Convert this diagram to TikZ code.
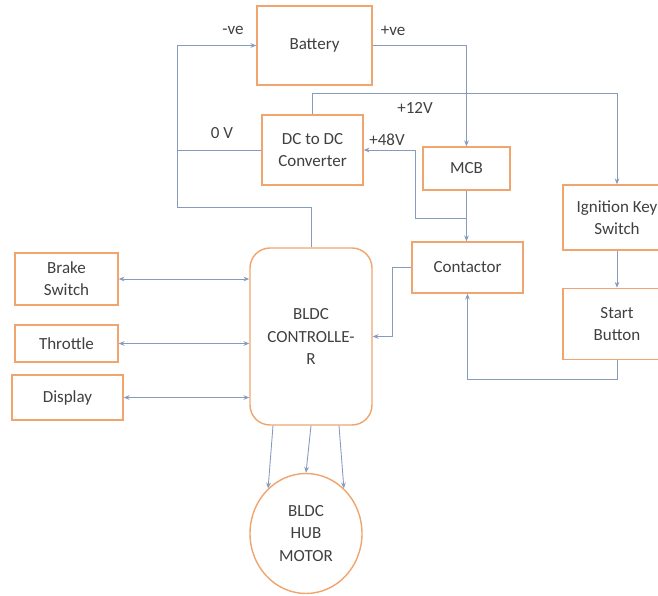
\documentclass[tikz,border=0pt]{standalone}
\usepackage{fontspec}
\setmainfont{Carlito}
\usetikzlibrary{positioning,shapes.geometric,arrows.meta}
\definecolor{boxline}{RGB}{240,165,110}
\definecolor{wire}{RGB}{135,155,190}
\definecolor{ink}{RGB}{64,64,64}
\tikzset{
  blk/.style 2 args={draw=boxline, line width=1.2pt, fill=white, text=ink, align=center,
    minimum width=#1*0.3mm, minimum height=#2*0.3mm, inner sep=0pt},
  wr/.style={draw=wire, line width=0.75pt},
  lbl/.style={text=ink, inner sep=0pt}
}

\begin{document}
\begin{tikzpicture}[x=0.3mm, y=-0.3mm, font=\fontsize{14.5}{19}\selectfont,
  >={Stealth[length=5pt,width=4pt]}]
  \clip (0,0) rectangle (658,596);
  % blocks
  \node[blk={115}{79}] (bat) at (314.5,45.5) {Battery};
  \node[blk={101}{70}] (conv) at (312.5,150) {DC to DC\\Converter};
  \node[blk={87}{43}] (mcb) at (466.5,168.5) {MCB};
  \node[blk={111}{51}] (cont) at (467.5,267.5) {Contactor};
  \node[blk={108}{65}] (ign) at (617,217.5) {Ignition Key\\Switch};
  \node[blk={108}{71}, below=11.1mm of ign] (start) {Start\\Button};
  \node[blk={122}{177}, rounded corners=6mm] (ctrl) at (311,336.5) {BLDC\\CONTROLLE-\\R};
  \node[blk={103}{52}] (brake) at (66.5,279) {Brake\\Switch};
  \node[blk={103}{37}] (thr) at (66.5,343.5) {Throttle};
  \node[blk={111}{45}] (disp) at (67.5,397.5) {Display};
  \node[blk={112}{120}, ellipse] (motor) at (306,533.5) {BLDC\\HUB\\MOTOR};
  % labels
  \node[lbl] (neg) at (233,30) {-ve};
  \node[lbl] (pos) at (393,31) {+ve};
  \node[lbl] (v12) at (415,108) {+12V};
  \node[lbl] (v0) at (222,133) {0 V};
  \node[lbl] (v48) at (387,140) {+48V};
  % wires
  \coordinate (gnd) at (177,207);
  \coordinate (j48) at (415,218);
  \draw[wr,->] (ctrl.north) |- (gnd) |- (bat.west);
  \draw[wr] (conv.west) -- (conv.west -| gnd);
  \draw[wr,->] (bat.east) -| (mcb.north);
  \draw[wr,->] (conv.north) -- ++(0,-21) -| (ign.north);
  \draw[wr,->] (mcb.south |- j48) -- (j48) |- (conv.east);
  \draw[wr,->] (mcb.south) -- (mcb.south |- cont.north);
  \draw[wr,->] (ign) -- (start);
  \draw[wr,->] (start.south) -- ++(0,19) -| (cont.south);
  \draw[wr,->] (cont.west) -- ++(-19,0) |- (ctrl.east);
  \draw[wr,<->] (brake.east) -- (brake.east -| ctrl.west);
  \draw[wr,<->] (thr.east) -- (thr.east -| ctrl.west);
  \draw[wr,<->] (disp.east) -- (disp.east -| ctrl.west);
  \draw[wr,->] ([xshift=-11.4mm]ctrl.south) -- (motor.130);
  \draw[wr,->] (ctrl.south) -- (motor.north);
  \draw[wr,->] ([xshift=8.4mm]ctrl.south) -- (motor.50);
\end{tikzpicture}
\end{document}
